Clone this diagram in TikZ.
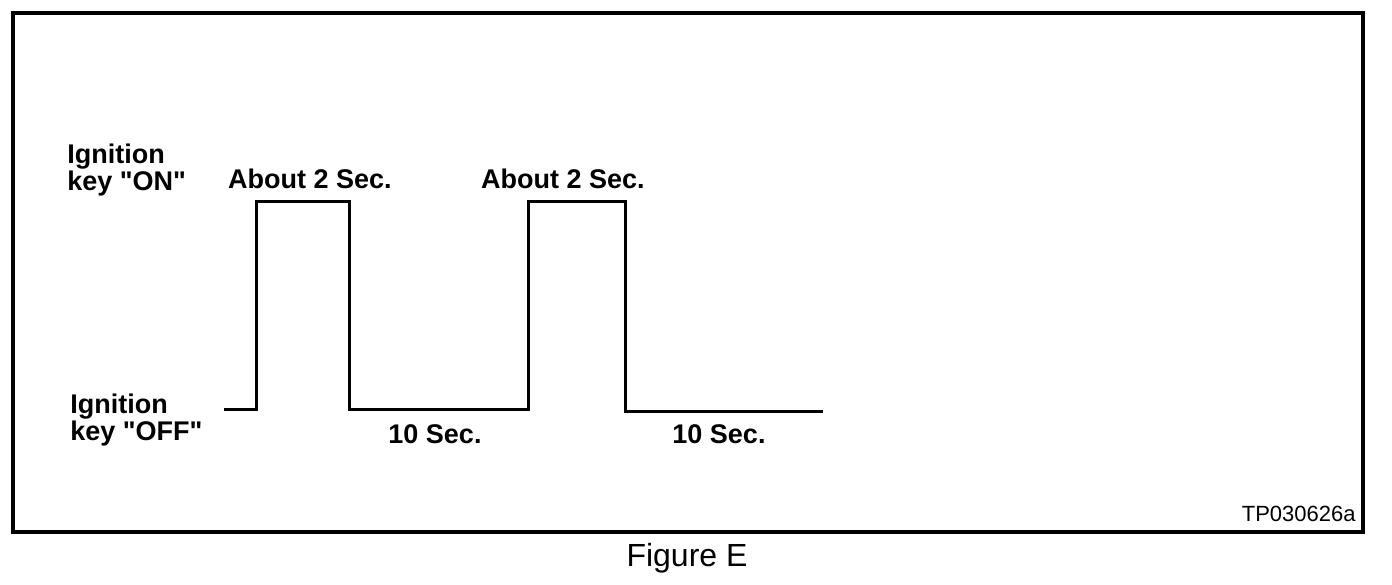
\documentclass[tikz,border=0pt]{standalone}
\usepackage{fontspec}
\setmainfont{Liberation Sans}
\usetikzlibrary{positioning}

\begin{document}
\begin{tikzpicture}[
		x=0.5pt, y=-0.5pt,
		every node/.style={inner sep=0pt},
		keylbl/.style={font=\fontsize{13.5}{12}\selectfont\bfseries, align=left, anchor=west},
		seclbl/.style={font=\fontsize{13.5}{16}\selectfont\bfseries, anchor=base},
		wave/.style={line width=1.5pt, line join=miter},
		frame/.style={line width=2pt}
	]
		\useasboundingbox (0,0) rectangle (1392,584);
		\draw[frame] (13,13) rectangle (1363,532);

		% corners of the key signal
		\coordinate (w0) at (224,409);
		\coordinate (r1) at (256,409);
		\coordinate (t1) at (256,201);
		\coordinate (t2) at (349,201);
		\coordinate (f1) at (349,409);
		\coordinate (r2) at (528,409);
		\coordinate (t3) at (528,201);
		\coordinate (t4) at (625,201);
		\coordinate (f2) at (625,411);
		\coordinate (w1) at (823,411);
		\draw[wave] (w0) -- (r1) -- (t1) -- (t2) -- (f1) -- (r2) -- (t3) -- (t4) -- (f2) -- (w1);

		\node[keylbl] (keyon) at (67,170) {Ignition\\key \textquotedbl ON\textquotedbl};
		\node[keylbl] (keyoff) at (70,420) {Ignition\\key \textquotedbl OFF\textquotedbl};

		\node[seclbl] (on1) at (310,188) {About 2 Sec.};
		\node[seclbl] (on2) at (563,188) {About 2 Sec.};
		\node[seclbl] (off1) at (435,443) {10 Sec.};
		\node[seclbl] (off2) at (719,443) {10 Sec.};

		\node[font=\fontsize{11}{13}\selectfont, anchor=base east] (tag) at (1356,521) {TP030626a};
		\node[font=\fontsize{16}{19}\selectfont, anchor=base] (fig) at (687,566) {Figure E};
	\end{tikzpicture}
\end{document}
